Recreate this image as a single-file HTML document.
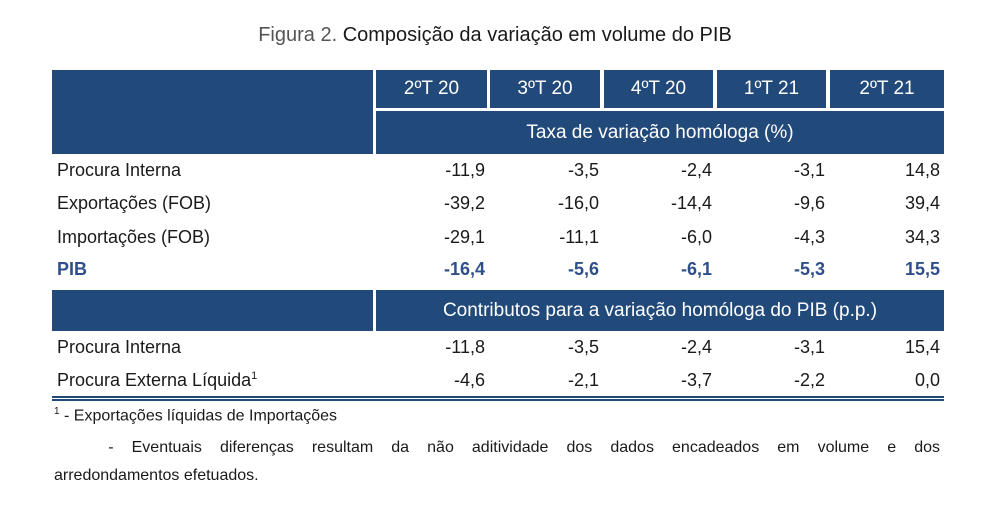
<!DOCTYPE html>
<html><head><meta charset="utf-8"><style>
body{margin:0;width:990px;height:516px;background:#fff;font-family:"Liberation Sans",sans-serif;color:#1a1a1a;position:relative;overflow:hidden}
.a{position:absolute}
.hd{position:absolute;background:#21497a;color:#fff;font-size:19px;display:flex;align-items:center;justify-content:center}
.lab{position:absolute;left:57px;font-size:18px}
.v{position:absolute;font-size:18px;text-align:right;width:100px}
.pib{color:#2f4f8a;font-weight:bold}
</style></head><body>
<div class="a" style="left:0;width:990px;top:24px;text-align:center;font-size:20px"><span style="color:#555">Figura 2.</span> Composição da variação em volume do PIB</div>
<div class="hd" style="left:52px;top:70px;width:321px;height:84px"></div>
<div class="hd" style="left:376px;top:70px;width:111px;height:38px">2ºT 20</div>
<div class="hd" style="left:490px;top:70px;width:110px;height:38px">3ºT 20</div>
<div class="hd" style="left:604px;top:70px;width:109px;height:38px">4ºT 20</div>
<div class="hd" style="left:717px;top:70px;width:109px;height:38px">1ºT 21</div>
<div class="hd" style="left:830px;top:70px;width:114px;height:38px">2ºT 21</div>
<div class="hd" style="left:376px;top:111px;width:568px;height:43px">Taxa de variação homóloga (%)</div>
<div class="hd" style="left:52px;top:290px;width:321px;height:41px"></div>
<div class="hd" style="left:376px;top:290px;width:568px;height:41px">Contributos para a variação homóloga do PIB (p.p.)</div>
<div id="rows"></div>
<div class="a" style="left:52px;top:396px;width:892px;height:1px;border-top:2px solid #21497a;border-bottom:2px solid #21497a;height:1px"></div>
<div class="a" style="left:54px;top:406px;font-size:16px"><sup style="font-size:10px">1</sup> - Exportações líquidas de Importações</div>
<div class="a" style="left:54px;top:439px;width:886px;font-size:16px;text-align:justify;text-align-last:justify">&nbsp;&nbsp;&nbsp;- Eventuais diferenças resultam da não aditividade dos dados encadeados em volume e dos</div>
<div class="a" style="left:54px;top:467px;font-size:16px">arredondamentos efetuados.</div>
<script>
const labels=["Procura Interna","Exportações (FOB)","Importações (FOB)","PIB","Procura Interna","Procura Externa Líquida"];
const values=[["-11,9","-3,5","-2,4","-3,1","14,8"],["-39,2","-16,0","-14,4","-9,6","39,4"],["-29,1","-11,1","-6,0","-4,3","34,3"],["-16,4","-5,6","-6,1","-5,3","15,5"],["-11,8","-3,5","-2,4","-3,1","15,4"],["-4,6","-2,1","-3,7","-2,2","0,0"]];
const tops=[160,193,227,259,337,370];
const rights=[485,599,712,825,940];
const c=document.getElementById('rows');
labels.forEach((l,i)=>{
 const d=document.createElement('div');
 d.className='lab'+(i===3?' pib':'');
 
 
 d.style.top=tops[i]+'px';
 d.innerHTML=l+(i===5?'<sup style="font-size:11px">1</sup>':'');
 c.appendChild(d);
 values[i].forEach((v,j)=>{
  const e=document.createElement('div');
  e.className='v'+(i===3?' pib':'');
  
  
  e.style.top=tops[i]+'px';e.style.left=(rights[j]-100)+'px';
  e.textContent=v;c.appendChild(e);
 });
});
</script>
</body></html>
